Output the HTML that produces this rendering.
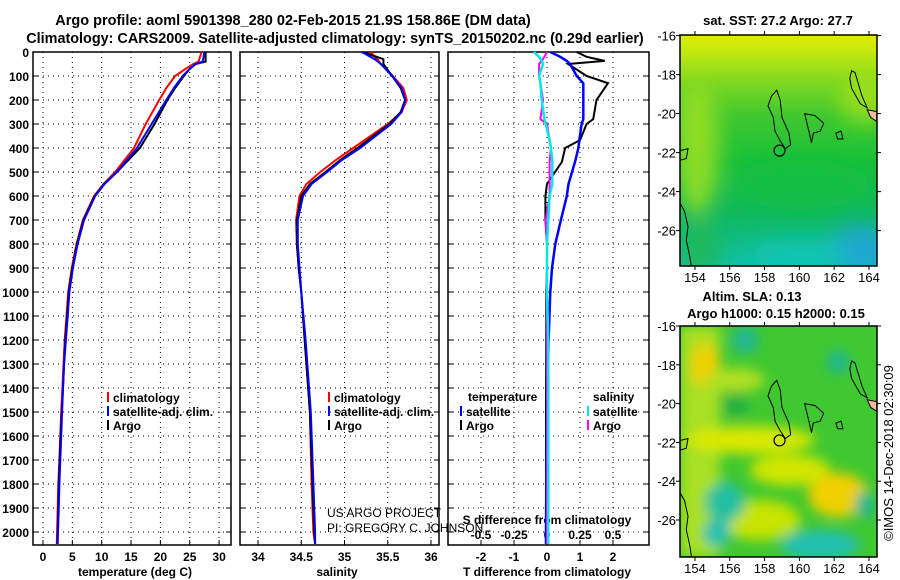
<!DOCTYPE html>
<html><head><meta charset="utf-8">
<style>
html,body{margin:0;padding:0;background:#fff;}
svg{display:block;font-family:"Liberation Sans",sans-serif;}
.b{font-weight:bold;}
</style></head>
<body>
<svg id="fig" width="900" height="580" viewBox="0 0 900 580" xmlns="http://www.w3.org/2000/svg">
<defs>
<filter id="blur1" x="-50%" y="-50%" width="200%" height="200%"><feGaussianBlur stdDeviation="10"/></filter>
<filter id="blur2" x="-50%" y="-50%" width="200%" height="200%"><feGaussianBlur stdDeviation="6"/></filter>
<clipPath id="clipM1"><rect x="680" y="35" width="197" height="231"/></clipPath>
<clipPath id="clipM2"><rect x="680" y="326" width="197" height="231"/></clipPath>
<linearGradient id="sstGrad" x1="0" y1="0" x2="0" y2="1">
<stop offset="0" stop-color="#e0ec00"/><stop offset="0.08" stop-color="#c0e810"/><stop offset="0.2" stop-color="#80d820"/><stop offset="0.35" stop-color="#40c830"/><stop offset="0.55" stop-color="#18c038"/><stop offset="0.78" stop-color="#10b860"/><stop offset="1" stop-color="#10c0a8"/>
</linearGradient>
</defs>
<text x="293" y="25" text-anchor="middle" class="b" font-size="14.5">Argo profile: aoml 5901398_280 02-Feb-2015 21.9S 158.86E (DM data)</text>
<text x="335" y="43" text-anchor="middle" class="b" font-size="14.4">Climatology: CARS2009. Satellite-adjusted climatology: synTS_20150202.nc (0.29d earlier)</text>
<g id="p1"></g>
<g id="p2"></g>
<g id="p3"></g>
<g id="m1"></g>
<g id="m2"></g>
<text x="327" y="517" font-size="12">US ARGO PROJECT</text>
<text x="327" y="532" font-size="12">PI: GREGORY C. JOHNSON</text>
<text transform="translate(893,453) rotate(-90)" text-anchor="middle" font-size="13">©IMOS 14-Dec-2018 02:30:09</text>
</svg>
<script>
// ---- data ----
const depthTicks=[0,100,200,300,400,500,600,700,800,900,1000,1100,1200,1300,1400,1500,1600,1700,1800,1900,2000];
const tempTicks=[0,5,10,15,20,25,30];
const salTicks=[34,34.5,35,35.5,36];
const salTickLabels=["34","34.5","35","35.5","36"];
const tdiffTicks=[-2,-1,0,1,2];
const sdiffTicks=[-0.5,-0.25,0,0.25,0.5];
const sdiffTickLabels=["-0.5","-0.25","0","0.25","0.5"];
const tempDepth=[0,40,50,70,100,150,200,300,400,500,550,600,700,800,900,1000,1100,1200,1300,1400,1500,1600,1700,1800,1900,2000,2050];
const tempArgo=[27.7,27.7,26,25,24.0,22.5,21.2,19,16.5,12.6,10.4,8.8,6.9,5.8,5.0,4.4,4.1,3.8,3.6,3.4,3.2,3.0,2.85,2.7,2.6,2.5,2.45];
const tempClim=[27.0,26.5,25.6,24.3,22.5,21,19.8,17.5,15.5,12.3,10.3,8.7,6.8,5.7,4.9,4.3,4.0,3.7,3.5,3.3,3.1,2.95,2.8,2.6,2.5,2.4,2.35];
const tempSat=[27.5,27.2,26,25,23.8,22.3,21,18.5,16,12.6,10.5,8.9,7.0,5.9,5.1,4.5,4.2,3.9,3.6,3.4,3.25,3.1,2.95,2.8,2.7,2.55,2.5];
const salDepth=[0,30,50,100,150,200,250,300,400,450,500,550,600,700,800,900,1000,1200,1500,1800,2000,2050];
const salArgo=[35.21,35.45,35.45,35.55,35.65,35.7,35.65,35.52,35.15,34.95,34.78,34.6,34.5,34.45,34.45,34.47,34.5,34.54,34.6,34.63,34.65,34.66];
const salClim=[35.3,35.38,35.42,35.56,35.68,35.72,35.66,35.5,35.1,34.9,34.72,34.56,34.48,34.44,34.45,34.47,34.5,34.54,34.6,34.62,34.64,34.66];
const salSat=[35.2,35.35,35.42,35.55,35.66,35.7,35.66,35.54,35.18,34.97,34.8,34.62,34.52,34.46,34.46,34.48,34.5,34.55,34.61,34.64,34.66,34.66];
const dDepth=[0,20,37,50,100,130,200,280,300,367,400,458,550,600,700,800,900,1000,1200,1500,1800,2000,2050];
const dTArgo=[0.9,1.2,1.75,0.64,1.2,1.85,1.5,1.4,1.2,1.0,0.55,0.45,0.0,-0.05,-0.05,0.0,0.0,-0.02,-0.02,-0.03,-0.03,-0.03,-0.03];
const dTSat=[0.1,0.4,0.6,0.7,0.9,1.1,1.1,1.1,1.05,0.98,0.95,0.85,0.65,0.6,0.42,0.25,0.15,0.1,0.05,0.0,-0.02,-0.03,-0.03];
const dSSat=[-0.1,-0.06,-0.04,-0.03,-0.06,-0.05,-0.04,-0.02,-0.01,0.02,0.03,0.04,0.04,0.02,0.01,0.0,0.0,0.0,0.01,0.01,0.01,0.01,0.01];
const dSArgo=[0.0,-0.02,-0.04,-0.06,-0.06,-0.05,-0.03,-0.05,0.0,0.02,0.03,0.02,0.02,0.02,-0.01,0.0,0.0,0.0,0.0,0.0,0.0,0.0,0.0];
const latTicks=[-16,-18,-20,-22,-24,-26];
const lonTicks=[154,156,158,160,162,164];
const argoLon=158.86, argoLat=-21.9;

// ---- axes ----
const NS="http://www.w3.org/2000/svg";
const TOP=52,BOT=545;
function yD(d){return TOP+d*0.24;}
function xT(t){return 43+t*5.87;}
function xS(s){return 258+(s-34)*86.5;}
function xDT(t){return 547+t*33;}
function xDS(s){return 547+s*132;}
function mX(l){return 680+(l-153.14)*17.4;}
function m1Y(l){return 35.6+(-16-l)*19.5;}
function m2Y(l){return 326+(-16-l)*19.4;}
function el(tag,attrs,parent){const e=document.createElementNS(NS,tag);for(const k in attrs)e.setAttribute(k,attrs[k]);parent.appendChild(e);return e;}

function panel(g,x0,x1,xgrid){
  for(const d of depthTicks){
    const y=yD(d);
    const l=el('line',{x1:x0,x2:x1,y1:y,y2:y,stroke:'#000','stroke-width':1,'stroke-dasharray':'1,4'},g);
    
    
    el('line',{x1:x0,x2:x0+5,y1:y,y2:y,stroke:'#000'},g);
    el('line',{x1:x1-5,x2:x1,y1:y,y2:y,stroke:'#000'},g);
  }
  for(const x of xgrid){
    const l=el('line',{x1:x,x2:x,y1:TOP,y2:BOT,stroke:'#000','stroke-width':1,'stroke-dasharray':'1,4'},g);
    
    
    el('line',{x1:x,x2:x,y1:BOT,y2:BOT-5,stroke:'#000'},g);
  }
  const r=el('rect',{x:x0,y:TOP,width:x1-x0,height:BOT-TOP,fill:'none',stroke:'#000','stroke-width':1.5},g);
  
  
}
function line(g,xs,ds,fx,color,w,name){
  const pts=xs.map((v,i)=>fx(v).toFixed(1)+','+yD(ds[i]).toFixed(1)).join(' ');
  const p=el('polyline',{points:pts,fill:'none',stroke:color,'stroke-width':w},g);
  
  
}
function txt(g,x,y,s,opts,name){
  const t=el('text',Object.assign({x:x,y:y,'font-size':12,'font-weight':'bold'},opts||{}),g);
  t.textContent=s;
  
  
  return t;
}
function legend(g,x,y,color,label,name){
  el('line',{x1:x,x2:x,y1:y-6,y2:y+4,stroke:color,'stroke-width':2},g);
  txt(g,x+5,y+4,label,{},name);
}

// panel 1
const p1=document.getElementById('p1');
panel(p1,33,231,tempTicks.map(xT));
for(const d of depthTicks) txt(p1,29,yD(d)+5,String(d),{'text-anchor':'end'},'depth-tick-label');
for(const t of tempTicks) txt(p1,xT(t),561,String(t),{'text-anchor':'middle'},'temperature-tick-label');
txt(p1,135,576,'temperature (deg C)',{'text-anchor':'middle'},'temperature-axis-title');
line(p1,tempClim,tempDepth,xT,'#ff0000',2,'temperature-climatology-line');
line(p1,tempArgo,tempDepth,xT,'#000',2,'temperature-argo-line');
line(p1,tempSat,tempDepth,xT,'#0000ff',2,'temperature-satellite-line');
legend(p1,108,398,'#ff0000','climatology','legend-climatology');
legend(p1,108,412,'#0000ff','satellite-adj. clim.','legend-satellite');
legend(p1,108,426,'#000','Argo','legend-argo');

// panel 2
const p2=document.getElementById('p2');
panel(p2,240,439,salTicks.map(xS));
salTicks.forEach((s,i)=>txt(p2,xS(s),561,salTickLabels[i],{'text-anchor':'middle'},'salinity-tick-label'));
txt(p2,337,576,'salinity',{'text-anchor':'middle'},'salinity-axis-title');
line(p2,salClim,salDepth,xS,'#ff0000',2,'salinity-climatology-line');
line(p2,salArgo,salDepth,xS,'#000',2,'salinity-argo-line');
line(p2,salSat,salDepth,xS,'#0000ff',2,'salinity-satellite-line');
legend(p2,329,398,'#ff0000','climatology','legend-climatology');
legend(p2,329,412,'#0000ff','satellite-adj. clim.','legend-satellite');
legend(p2,329,426,'#000','Argo','legend-argo');

// panel 3
const p3=document.getElementById('p3');
panel(p3,448,649,tdiffTicks.map(xDT));
for(const t of tdiffTicks) txt(p3,xDT(t),561,String(t),{'text-anchor':'middle'},'tdiff-tick-label');
sdiffTicks.forEach((s,i)=>txt(p3,xDS(s),539,sdiffTickLabels[i],{'text-anchor':'middle'},'sdiff-tick-label'));
txt(p3,547,524,'S difference from climatology',{'text-anchor':'middle'},'sdiff-axis-title');
txt(p3,547,576,'T difference from climatology',{'text-anchor':'middle'},'tdiff-axis-title');
line(p3,dTArgo,dDepth,xDT,'#000',2,'tdiff-argo-line');
line(p3,dTSat,dDepth,xDT,'#0000ff',2.5,'tdiff-satellite-line');
line(p3,dSArgo,dDepth,xDS,'#ff00ff',2,'sdiff-argo-line');
line(p3,dSSat,dDepth,xDS,'#00e8e8',2.5,'sdiff-satellite-line');
txt(p3,468,401,'temperature',{},'legend-temperature-heading');
legend(p3,461,412,'#0000ff','satellite','legend-tdiff-satellite');
legend(p3,461,426,'#000','Argo','legend-tdiff-argo');
txt(p3,593,401,'salinity',{},'legend-salinity-heading');
legend(p3,588,412,'#00e8e8','satellite','legend-sdiff-satellite');
legend(p3,588,426,'#ff00ff','Argo','legend-sdiff-argo');

// maps
function coast(g,fy){
  const shapes=[
    [[158.4,-19.1],[158.7,-18.8],[158.9,-19.3],[159.0,-20.2],[159.4,-21.0],[159.5,-21.6],[159.2,-21.8],[158.9,-21.4],[158.6,-20.9],[158.5,-20.2],[158.2,-19.6]],
    [[163.0,-17.8],[163.2,-17.9],[163.4,-18.5],[163.6,-19.1],[163.9,-19.7],[163.5,-19.5],[163.0,-18.7],[162.9,-18.2]],
    [[160.3,-20.0],[160.9,-20.1],[161.4,-20.5],[161.2,-20.9],[160.8,-21.0],[160.7,-21.5],[160.6,-21.1]],
    [[162.1,-21.0],[162.4,-20.9],[162.5,-21.3],[162.2,-21.3]],
    [[153.14,-21.9],[153.6,-21.8],[153.5,-22.3],[153.14,-22.4]],
    [[153.14,-24.6],[153.4,-25.0],[153.6,-25.8],[153.5,-26.5],[153.7,-27.3],[153.8,-27.9],[153.14,-27.9]]
  ];
  for(const s of shapes){
    const p=el('polygon',{points:s.map(q=>mX(q[0]).toFixed(1)+','+fy(q[1]).toFixed(1)).join(' '),fill:'none',stroke:'#000','stroke-width':1},g);
    
    
  }
  el('polygon',{points:[[163.9,-19.8],[164.45,-19.9],[164.45,-20.4],[164.1,-20.2]].map(q=>mX(q[0])+','+fy(q[1])).join(' '),fill:'#f4b89a',stroke:'#000'},g);
  const c=el('circle',{cx:mX(argoLon),cy:fy(argoLat),r:5.5,fill:'none',stroke:'#000','stroke-width':1.2},g);
  
  
}
function mapAxes(g,fy,top,bot){
  const r=el('rect',{x:680,y:top,width:197,height:bot-top,fill:'none',stroke:'#000','stroke-width':1.5},g);
  
  
  for(const l of latTicks){
    el('line',{x1:676,x2:680,y1:fy(l),y2:fy(l),stroke:'#000'},g);
    el('line',{x1:877,x2:881,y1:fy(l),y2:fy(l),stroke:'#000'},g);
    txt(g,676,fy(l)+5,String(l),{'text-anchor':'end','font-size':13,'font-weight':'normal'},'latitude-tick-label');
  }
  for(const l of lonTicks){
    el('line',{x1:mX(l),x2:mX(l),y1:bot,y2:bot+4,stroke:'#000'},g);
    el('line',{x1:mX(l),x2:mX(l),y1:top-4,y2:top,stroke:'#000'},g);
    txt(g,mX(l),bot+16,String(l),{'text-anchor':'middle','font-size':13,'font-weight':'normal'},'longitude-tick-label');
  }
}
// map 1 (SST)
const m1=document.getElementById('m1');
const g1=el('g',{'clip-path':'url(#clipM1)'},m1);
el('rect',{x:680,y:35,width:197,height:231,fill:'url(#sstGrad)'},g1);
const b1=el('g',{filter:'url(#blur1)'},g1);
el('ellipse',{cx:697,cy:150,rx:22,ry:65,fill:'#a8e420',opacity:0.8},b1);
el('ellipse',{cx:865,cy:100,rx:25,ry:25,fill:'#b8e815',opacity:0.6},b1);
el('ellipse',{cx:860,cy:250,rx:30,ry:25,fill:'#20a0e0',opacity:0.8},b1);
el('ellipse',{cx:800,cy:255,rx:50,ry:15,fill:'#10c8c0',opacity:0.7},b1);
el('ellipse',{cx:700,cy:250,rx:20,ry:30,fill:'#20b850',opacity:0.8},b1);
el('ellipse',{cx:800,cy:185,rx:70,ry:25,fill:'#10c040',opacity:0.6},b1);
coast(g1,m1Y);
mapAxes(m1,m1Y,35,266);
txt(m1,778,25,'sat. SST: 27.2 Argo: 27.7',{'text-anchor':'middle','font-size':13},'sst-map-title');
// map 2 (SLA)
const m2=document.getElementById('m2');
const g2=el('g',{'clip-path':'url(#clipM2)'},m2);
el('rect',{x:680,y:326,width:197,height:231,fill:'#40c830'},g2);
const b2=el('g',{filter:'url(#blur2)'},g2);
el('rect',{x:680,y:326,width:40,height:231,fill:'#a8e020'},b2);
el('ellipse',{cx:705,cy:365,rx:14,ry:22,fill:'#f0d000'},b2);
el('ellipse',{cx:750,cy:440,rx:65,ry:14,fill:'#d8e800'},b2);
el('ellipse',{cx:790,cy:470,rx:40,ry:16,fill:'#d0e600'},b2);
el('ellipse',{cx:838,cy:495,rx:30,ry:22,fill:'#f0d000'},b2);
el('ellipse',{cx:760,cy:520,rx:40,ry:20,fill:'#c8e400'},b2);
el('ellipse',{cx:735,cy:380,rx:30,ry:12,fill:'#b0e020'},b2);
el('ellipse',{cx:725,cy:502,rx:20,ry:20,fill:'#20c0a0'},b2);
el('ellipse',{cx:717,cy:533,rx:14,ry:14,fill:'#20c0b0'},b2);
el('ellipse',{cx:745,cy:340,rx:14,ry:14,fill:'#20b890'},b2);
el('ellipse',{cx:838,cy:362,rx:12,ry:12,fill:'#20b890'},b2);
el('ellipse',{cx:820,cy:545,rx:40,ry:15,fill:'#20c0b0'},b2);
el('ellipse',{cx:865,cy:505,rx:10,ry:14,fill:'#20b890'},b2);
el('ellipse',{cx:735,cy:405,rx:14,ry:12,fill:'#20b040'},b2);
coast(g2,m2Y);
mapAxes(m2,m2Y,326,557);
txt(m2,752,301,'Altim. SLA: 0.13',{'text-anchor':'middle','font-size':13},'sla-map-title');
txt(m2,776,318,'Argo h1000: 0.15 h2000: 0.15',{'text-anchor':'middle','font-size':13},'argo-height-title');
</script>
</body></html>
